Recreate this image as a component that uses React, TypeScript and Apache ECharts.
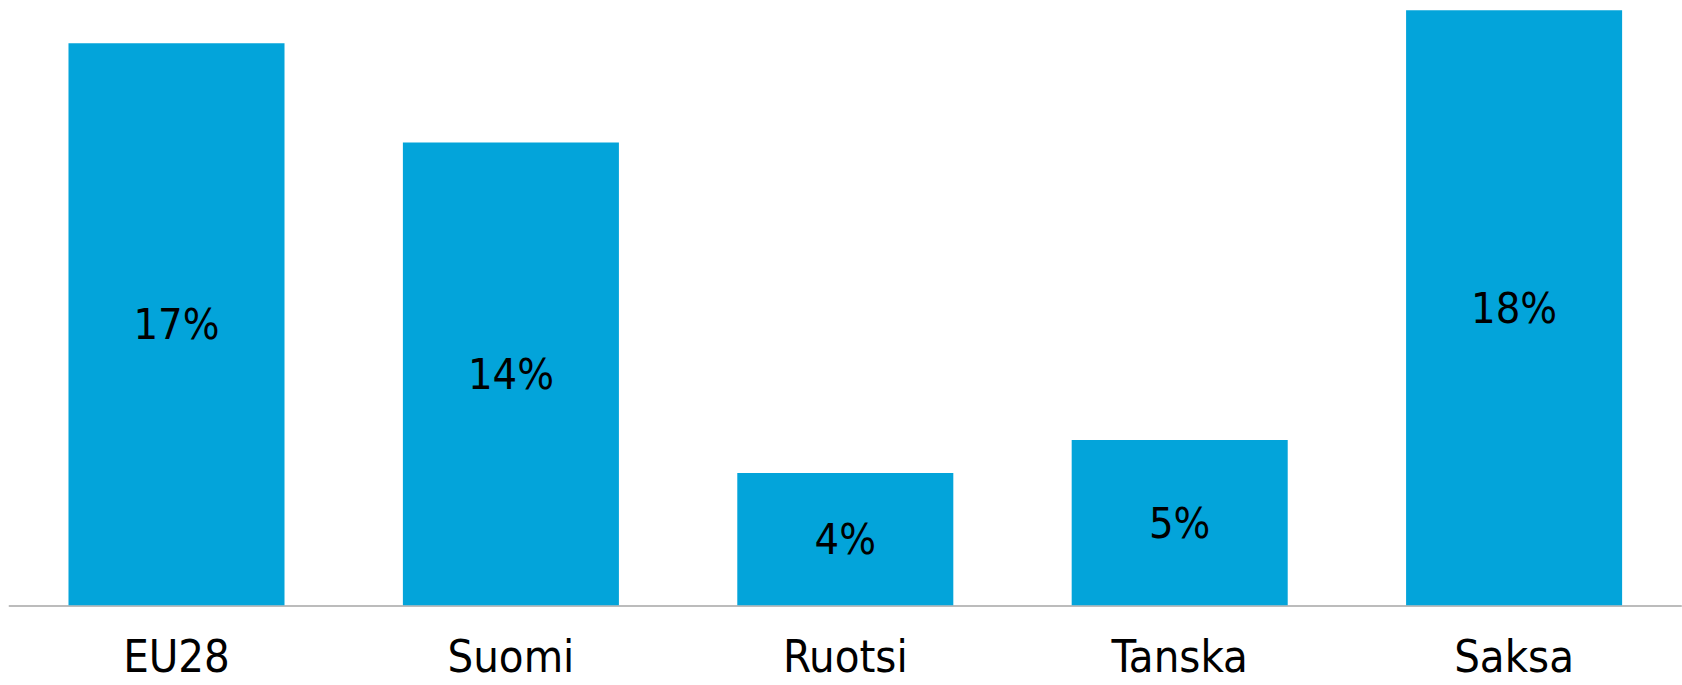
import React, { useEffect, useRef } from "react";
import * as echarts from "echarts";

const categories = ["EU28", "Suomi", "Ruotsi", "Tanska", "Saksa"];
const values = [17, 14, 4, 5, 18];

export default function App() {
  const ref = useRef<HTMLDivElement>(null);
  useEffect(() => {
    document.body.style.margin = "0";
    const chart = echarts.init(ref.current!, null, { renderer: "svg" });
    chart.setOption({
      animation: false,
      backgroundColor: "#ffffff",
      grid: { left: 9.3, right: 0.7, top: 10.3, bottom: 79.7, containLabel: false },
      xAxis: {
        type: "category",
        data: categories,
        axisLine: { show: true, lineStyle: { color: "#A6A6A6", width: 1.5 } },
        axisTick: { show: false },
        axisLabel: {
          color: "#000000",
          fontSize: 45,
          lineHeight: 40,
          fontFamily: "'Liberation Sans Narrow', 'DejaVu Sans Condensed', sans-serif",
          margin: 31,
        },
      },
      yAxis: {
        type: "value",
        min: 0,
        max: 18,
        show: false,
        splitLine: { show: false },
      },
      series: [
        {
          type: "bar",
          data: values,
          barCategoryGap: "35.4%",
          itemStyle: { color: "#03A4DA" },
          label: {
            show: true,
            position: "inside",
            color: "#000000",
            fontSize: 43,
            fontFamily: "'Liberation Sans Narrow', 'DejaVu Sans Condensed', sans-serif",
            formatter: (p: any) => `${p.value}%`,
          },
        },
      ],
    });
    return () => chart.dispose();
  }, []);
  return (
    <div
      ref={ref}
      style={{ position: "absolute", left: 0, top: 0, width: 1682, height: 685 }}
    />
  );
}
